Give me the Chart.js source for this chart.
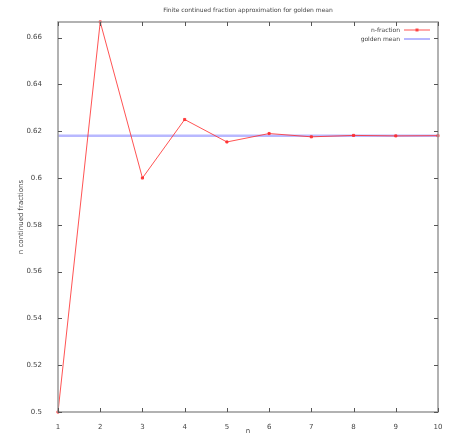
<!DOCTYPE html>
<html>
<head>
<meta charset="utf-8">
<script src="https://cdn.jsdelivr.net/npm/chart.js@4/dist/chart.umd.min.js"></script>
<style>
  body { margin: 0; background: #fff; }
  canvas { display: block; }
</style>
</head>
<body>
<canvas id="chart" width="449" height="435"></canvas>
<script>
// data
const nValues = [1, 2, 3, 4, 5, 6, 7, 8, 9, 10];
const fractions = [0.5, 0.6667, 0.6, 0.625, 0.6154, 0.619, 0.6176, 0.6182, 0.618, 0.6181];
const goldenMean = 0.618034;
const yTicks = [0.5, 0.52, 0.54, 0.56, 0.58, 0.6, 0.62, 0.64, 0.66];
const xTicks = [1, 2, 3, 4, 5, 6, 7, 8, 9, 10];

const FONT = "'DejaVu Sans', sans-serif";
const RED = "rgba(255,40,40,0.8)";
const BLUE = "rgba(160,160,255,0.75)";

// gnuplot look: frame, inward ticks, title, legend inside top-right
const framePlugin = {
    id: "frame",
    afterDraw(c) {
        const ctx = c.ctx;
        const a = c.chartArea;
        const xs = c.scales.x, ys = c.scales.y;
        ctx.save();
        ctx.strokeStyle = "#999";
        ctx.lineWidth = 1.5;
        ctx.strokeRect(a.left, a.top, a.right - a.left, a.bottom - a.top);

        ctx.strokeStyle = "#555";
        ctx.lineWidth = 1;
        ctx.beginPath();
        yTicks.forEach(v => {
            const y = Math.round(ys.getPixelForValue(v)) + 0.5;
            ctx.moveTo(a.left, y); ctx.lineTo(a.left + 4, y);
            ctx.moveTo(a.right, y); ctx.lineTo(a.right - 4, y);
        });
        xTicks.forEach(v => {
            const x = Math.round(xs.getPixelForValue(v)) + 0.5;
            ctx.moveTo(x, a.bottom); ctx.lineTo(x, a.bottom - 4);
            ctx.moveTo(x, a.top); ctx.lineTo(x, a.top + 4);
        });
        ctx.stroke();

        // title
        ctx.fillStyle = "#444";
        ctx.font = "6px " + FONT;
        ctx.textAlign = "center";
        ctx.textBaseline = "middle";
        ctx.fillText("Finite continued fraction approximation for golden mean", (a.left + a.right) / 2, 10);

        // legend
        ctx.textAlign = "right";
        const items = [
            { text: "n-fraction", color: RED, width: 1, point: true },
            { text: "golden mean", color: BLUE, width: 2, point: false }
        ];
        items.forEach((it, i) => {
            const y = 30 + i * 9;
            ctx.fillStyle = "#444";
            ctx.fillText(it.text, a.right - 38, y);
            ctx.strokeStyle = it.color;
            ctx.lineWidth = it.width;
            ctx.beginPath();
            ctx.moveTo(a.right - 34, y); ctx.lineTo(a.right - 8, y);
            ctx.stroke();
            if (it.point) {
                ctx.fillStyle = RED;
                ctx.fillRect(a.right - 22.5, y - 1.5, 3, 3);
            }
        });
        ctx.restore();
    }
};

new Chart(document.getElementById("chart"), {
    type: "line",
    data: {
        datasets: [
            {
                label: "n-fraction",
                data: nValues.map((n, i) => ({ x: n, y: fractions[i] })),
                borderColor: RED,
                backgroundColor: RED,
                borderWidth: 1,
                pointStyle: "rect",
                pointRadius: 1.5,
                pointHoverRadius: 1.5,
                clip: false,
                order: 1
            },
            {
                label: "golden mean",
                data: [{ x: nValues[0], y: goldenMean }, { x: nValues[nValues.length - 1], y: goldenMean }],
                borderColor: BLUE,
                borderWidth: 2.5,
                pointRadius: 0,
                order: 2
            }
        ]
    },
    options: {
        responsive: false,
        animation: false,
        events: [],
        layout: { padding: { top: 22, right: 11, left: 17, bottom: 0 } },
        plugins: {
            legend: { display: false },
            tooltip: { enabled: false }
        },
        scales: {
            x: {
                type: "linear",
                min: 1,
                max: 10,
                afterBuildTicks: s => { s.ticks = xTicks.map(v => ({ value: v })); },
                afterFit: s => { s.height = 23; },
                grid: { display: false },
                border: { display: false },
                ticks: { color: "#444", font: { size: 7, family: FONT }, padding: 3 },
                title: { display: true, text: "n", color: "#444", font: { size: 7, family: FONT }, padding: { top: 0, bottom: 0 } }
            },
            y: {
                type: "linear",
                min: 0.5,
                max: 2 / 3,
                afterBuildTicks: s => { s.ticks = yTicks.map(v => ({ value: v })); },
                afterFit: s => { s.width = 41; },
                grid: { display: false },
                border: { display: false },
                ticks: { color: "#444", font: { size: 7, family: FONT }, padding: 8, callback: v => String(+v.toFixed(2)) },
                title: { display: true, text: "n continued fractions", color: "#444", font: { size: 7, family: FONT }, padding: { top: 0, bottom: 0 } }
            }
        }
    },
    plugins: [framePlugin]
});
</script>
</body>
</html>
